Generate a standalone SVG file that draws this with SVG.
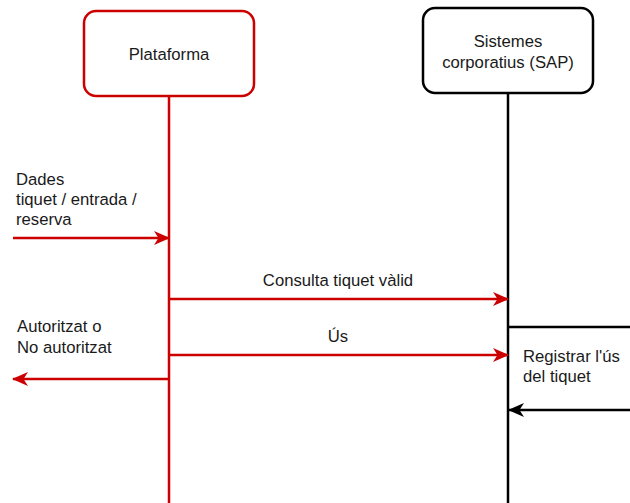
<svg xmlns="http://www.w3.org/2000/svg" width="630" height="503" viewBox="0 0 630 503">
  <style>
    .lbl { font-family: "Liberation Sans", Arial, sans-serif; font-size: 16.7px; fill: #1a1a1a; }
    .mid { text-anchor: middle; }
    .red { stroke: #cc0000; stroke-width: 2.5; fill: none; }
    .blk { stroke: #000000; stroke-width: 2.5; fill: none; }
    .boxRed { fill: #ffffff; stroke: #cc0000; stroke-width: 2.5; }
    .boxBlk { fill: #ffffff; stroke: #000000; stroke-width: 2.5; }
  </style>
  <defs>
    <marker id="arrRed" markerUnits="userSpaceOnUse" viewBox="0 0 16 14" refX="15" refY="7" markerWidth="16" markerHeight="14" orient="auto">
      <path d="M0,0 L16,7 L0,14 L4.5,7 Z" fill="#cc0000"/>
    </marker>
    <marker id="arrBlk" markerUnits="userSpaceOnUse" viewBox="0 0 16 14" refX="15" refY="7" markerWidth="16" markerHeight="14" orient="auto">
      <path d="M0,0 L16,7 L0,14 L4.5,7 Z" fill="#000000"/>
    </marker>
  </defs>

  <!-- lifelines -->
  <g id="lifelines">
    <line class="red" x1="169" y1="96" x2="169" y2="503"/>
    <line class="blk" x1="508" y1="93" x2="508" y2="503"/>
  </g>

  <!-- participants -->
  <g id="plataforma">
    <rect class="boxRed" x="84" y="11" width="170" height="85" rx="12" ry="12"/>
    <text class="lbl mid" x="169" y="60">Plataforma</text>
  </g>
  <g id="sap">
    <rect class="boxBlk" x="423" y="8" width="170" height="85" rx="12" ry="12"/>
    <text class="lbl mid" x="508" y="47">Sistemes</text>
    <text class="lbl mid" x="508" y="68">corporatius (SAP)</text>
  </g>

  <!-- messages -->
  <g id="connectors">
    <line class="red" x1="13" y1="238" x2="169" y2="238" marker-end="url(#arrRed)"/>
    <line class="red" x1="169" y1="299" x2="508" y2="299" marker-end="url(#arrRed)"/>
    <line class="red" x1="169" y1="355" x2="508" y2="355" marker-end="url(#arrRed)"/>
    <line class="red" x1="169" y1="379" x2="13" y2="379" marker-end="url(#arrRed)"/>
    <line class="blk" x1="508" y1="327" x2="630" y2="327"/>
    <line class="blk" x1="630" y1="410" x2="509" y2="410" marker-end="url(#arrBlk)"/>
  </g>

  <!-- message labels -->
  <g id="labels">
    <text class="lbl" x="16" y="185">Dades</text>
    <text class="lbl" x="16" y="205">tiquet / entrada /</text>
    <text class="lbl" x="16" y="225">reserva</text>
    <text class="lbl mid" x="338" y="286">Consulta tiquet vàlid</text>
    <text class="lbl mid" x="338" y="342">Ús</text>
    <text class="lbl" x="17" y="332">Autoritzat o</text>
    <text class="lbl" x="17" y="353">No autoritzat</text>
    <text class="lbl" x="523" y="362">Registrar l'ús</text>
    <text class="lbl" x="523" y="382">del tiquet</text>
  </g>
</svg>
